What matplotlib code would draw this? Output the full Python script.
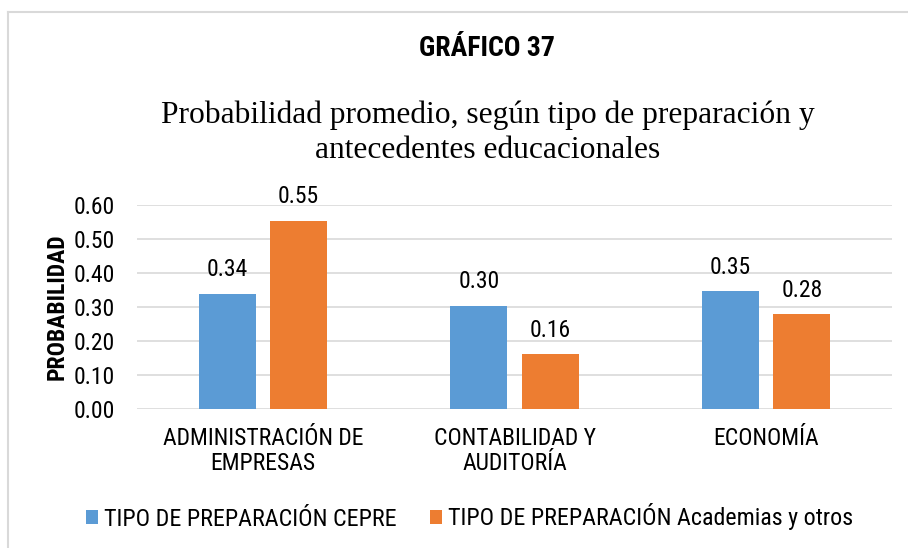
import matplotlib
matplotlib.use("Agg")
import matplotlib.pyplot as plt
from matplotlib import font_manager
from matplotlib.lines import Line2D
from matplotlib.patches import Patch
import numpy as np

# ---- data ----
categories = ["ADMINISTRACIÓN DE\nEMPRESAS", "CONTABILIDAD Y\nAUDITORÍA", "ECONOMÍA"]
series_names = ["TIPO DE PREPARACIÓN CEPRE", "TIPO DE PREPARACIÓN Academias y otros"]
cepre = [0.338, 0.303, 0.346]
academias = [0.553, 0.161, 0.279]
yticks = [0.0, 0.1, 0.2, 0.3, 0.4, 0.5, 0.6]
title = "GRÁFICO 37"
subtitle_lines = ["Probabilidad promedio, según tipo de preparación y",
                  "antecedentes educacionales"]
ylabel = "PROBABILIDAD"

colors = ["#5B9BD5", "#ED7D31"]

names = {f.name for f in font_manager.fontManager.ttflist}
SANS = "Roboto Condensed" if "Roboto Condensed" in names else "Liberation Sans"
SERIF = "Liberation Serif"
FS = 17 if SANS == "Roboto Condensed" else 14.5

W, H = 908, 548
fig = plt.figure(figsize=(W / 100, H / 100), dpi=100)

def fx(px):
    return px / W

def fy(py):
    return 1 - py / H

# frame (left and top edges of chart area border)
fig.add_artist(Line2D([fx(8), fx(8)], [fy(12), 0], color="#d9d9d9", lw=1.5,
                      transform=fig.transFigure))
fig.add_artist(Line2D([fx(8), 1], [fy(12), fy(12)], color="#d9d9d9", lw=1.5,
                      transform=fig.transFigure))

ax = fig.add_axes([fx(137), fy(409), fx(892) - fx(137), fy(205) - fy(409)])
x = np.arange(len(categories))
off = 0.142
bw = 0.226
b1 = ax.bar(x - off, cepre, bw, color=colors[0], zorder=3)
b2 = ax.bar(x + off, academias, bw, color=colors[1], zorder=3)

for bars, vals in ((b1, cepre), (b2, academias)):
    for rect, v in zip(bars, vals):
        ax.annotate(f"{v:.2f}", (rect.get_x() + rect.get_width() / 2, v),
                    xytext=(0, 12.7), textcoords="offset points",
                    ha="center", va="baseline", fontsize=FS, family=SANS,
                    color="#000000", annotation_clip=False)

ax.set_xlim(-0.5, len(categories) - 0.5)
ax.set_ylim(0, 0.6)
ax.set_yticks(yticks)
ax.set_yticklabels([f"{t:.2f}" for t in yticks], fontsize=FS, family=SANS)
ax.set_xticks(x)
ax.set_xticklabels(categories, fontsize=FS, family=SANS, linespacing=1.12)
ax.tick_params(axis="both", length=0)
ax.tick_params(axis="y", pad=16)
ax.tick_params(axis="x", pad=13)
ax.yaxis.grid(True, color="#d9d9d9", lw=1.2, zorder=0)
for s in ax.spines.values():
    s.set_visible(False)
ax.set_axisbelow(True)

fig.text(fx(57), fy(307), ylabel, rotation=90, ha="center", va="center",
         fontsize=FS, fontweight="bold", family=SANS)

fig.text(fx(486.5), fy(56.5), title, ha="center", va="baseline",
         fontsize=20 if SANS == "Roboto Condensed" else 17, fontweight="bold", family=SANS)
fig.text(fx(488), fy(123.5), subtitle_lines[0], ha="center", va="baseline",
         fontsize=22.7, family=SERIF)
fig.text(fx(488), fy(158.5), subtitle_lines[1], ha="center", va="baseline",
         fontsize=22.7, family=SERIF)

handles = [Patch(facecolor=c, edgecolor="none") for c in colors]
fig.legend(handles, series_names, loc="center", bbox_to_anchor=(fx(469.5), fy(517)),
           ncol=2, frameon=False, prop={"family": SANS, "size": FS + 0.3},
           handlelength=0.5, handleheight=0.5, handletextpad=0.25,
           columnspacing=1.4, borderpad=0, borderaxespad=0)

fig.savefig("out.png", dpi=100)
